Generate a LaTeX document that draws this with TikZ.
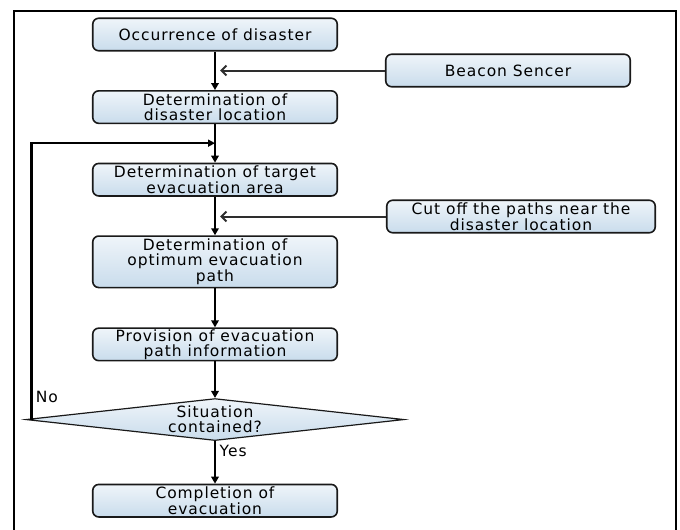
\documentclass[tikz,border=0pt]{standalone}
\usepackage{fontspec}
\setmainfont[LetterSpace=6]{DejaVu Sans}
\usetikzlibrary{positioning,shapes.geometric,arrows.meta}

\definecolor{boxblue}{HTML}{C9DCEC}
\definecolor{edgegray}{HTML}{2E2E2E}

\begin{document}
\begin{tikzpicture}[
  x=1pt, y=1pt,
  node distance=38.5pt,
  every node/.style={font=\fontsize{15.5}{15}\selectfont},
  stage/.style={rectangle, draw=black!90, line width=1.6pt, rounded corners=6pt,
                top color=boxblue!30, bottom color=boxblue, align=center,
                minimum width=244.5pt, minimum height=32.5pt, inner sep=0.5pt},
  decision/.style={diamond, draw=black!90, line width=1.2pt, aspect=8.8,
                   top color=boxblue!30, bottom color=boxblue, align=center,
                   minimum width=378pt, minimum height=42pt, inner sep=0pt},
  flow/.style={draw, line width=2.8pt, -{Triangle[length=7pt,width=7.5pt]}},
  side/.style={draw=edgegray, line width=2pt, -{Straight Barb[length=5pt,width=10pt]}, shorten >=5pt},
  backloop/.style={draw, line width=2.2pt, -{Triangle[length=7pt,width=7pt]}}
]
\useasboundingbox (0,0) rectangle (680,-530);
\draw[line width=2.6pt] (14,-11) rectangle (676,-545);

% main chain
\node[stage] (occur) at (215,-34.5) {Occurrence of disaster};
\node[stage, below=of occur] (disloc) {Determination of\\disaster location};
\node[stage, below=of disloc] (target) {Determination of target\\evacuation area};
\node[stage, below=of target, minimum height=51.5pt] (optim) {Determination of\\optimum evacuation\\path};
\node[stage, below=39pt of optim] (provide) {Provision of evacuation\\path information};
\node[decision, below=36.5pt of provide] (contain) {Situation\\contained?};
\node[stage, below=42.5pt of contain] (complete) {Completion of\\evacuation};

% side inputs
\node[stage] (beacon) at (508,-70.5) {Beacon Sencer};
\node[stage, minimum width=268.5pt] (cutoff) at (521,-216.5) {Cut off the paths near the\\disaster location};

\coordinate (beaconhit) at (occur.south |- beacon.west);
\coordinate (cuthit) at (target.south |- cutoff.west);
\coordinate[below=19pt of disloc] (loopjoin);

% connectors
\draw[flow] (occur) -- (disloc);
\draw[flow] (disloc) -- (target);
\draw[flow] (target) -- (optim);
\draw[flow] (optim) -- (provide);
\draw[flow] (provide) -- (contain);
\draw[flow] (contain) -- node[pos=0.22, right]{Yes} (complete);
\draw[side] (beacon.west) -- (beaconhit);
\draw[side] (cutoff.west) -- (cuthit);
\draw[backloop] ([xshift=6pt]contain.west) -- node[pos=0.08, right]{No} ([xshift=6pt]contain.west |- loopjoin) -- (loopjoin);

\end{tikzpicture}
\end{document}
